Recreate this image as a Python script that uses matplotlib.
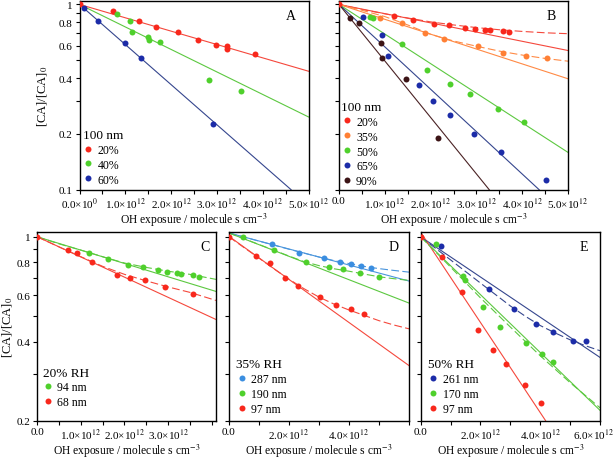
"""
Decay of [CA]/[CA]0 versus OH exposure, five panels (A-E).
Points are measurements; solid lines are linear fits, dashed lines the curved fits.
"""

import matplotlib.pyplot as plt
from matplotlib.ticker import FixedLocator, FixedFormatter, NullLocator
from matplotlib.transforms import ScaledTranslation

plt.rcParams.update({
    "font.family": "serif",
    "font.serif": ["Liberation Serif", "DejaVu Serif"],
    "mathtext.fontset": "stix",
    "font.size": 8,
    "axes.linewidth": 1.0,
    "xtick.direction": "out",
    "ytick.direction": "out",
    "xtick.major.size": 3,
    "ytick.major.size": 3,
    "xtick.major.width": 0.8,
    "ytick.major.width": 0.8,
    "xtick.major.pad": 1.5,
    "ytick.major.pad": 2,
})

RED, RED_L = "#f8281c", "#f5483c"
GREEN, GREEN_L = "#4fd02c", "#5cc840"
BLUE, BLUE_L = "#1c2ca8", "#35468e"
ORANGE, ORANGE_L = "#ff8035", "#ff8a45"
BROWN, BROWN_L = "#3c1416", "#4a2224"
LBLUE, LBLUE_L = "#3b8ee0", "#4a95dc"

# OH exposure in units of 1e12 molecule s cm-3
# ---- panel A : 100 nm
A20_x = [0.0, 0.725, 1.30, 1.67, 2.16, 2.58, 2.97, 3.22, 3.22, 3.83]
A20_y = [1.0, 0.921, 0.809, 0.755, 0.706, 0.644, 0.605, 0.596, 0.574, 0.539]
A40_x = [0.826, 1.11, 1.14, 1.49, 1.52, 1.75, 2.83, 3.53]
A40_y = [0.887, 0.809, 0.709, 0.671, 0.642, 0.628, 0.393, 0.339]
A60_x = [0.105, 0.41, 0.99, 1.34, 2.91]
A60_y = [0.956, 0.816, 0.616, 0.517, 0.225]
A20_fit = ([0, 5], [1.0, 0.436])
A40_fit = ([0, 5], [1.0, 0.247])
A60_fit = ([0, 4.62], [1.0, 0.1])

# ---- panel B : 100 nm
B20_x = [0.0, 1.19, 1.62, 2.08, 2.41, 2.76, 2.98, 3.19, 3.29, 3.57, 3.71]
B20_y = [1.0, 0.869, 0.827, 0.787, 0.770, 0.748, 0.736, 0.730, 0.724, 0.715, 0.709]
B35_x = [0.888, 1.37, 1.88, 2.29, 3.03, 3.57, 4.09, 4.54]
B35_y = [0.844, 0.793, 0.700, 0.650, 0.593, 0.550, 0.526, 0.511]
B50_x = [0.677, 0.75, 1.37, 1.93, 2.43, 2.85, 3.48, 4.05]
B50_y = [0.851, 0.844, 0.613, 0.444, 0.371, 0.328, 0.274, 0.232]
B65_x = [0.524, 0.932, 1.08, 1.74, 2.05, 2.42, 2.95, 3.54, 4.51]
B65_y = [0.851, 0.686, 0.530, 0.368, 0.303, 0.253, 0.201, 0.160, 0.113]
B90_x = [0.233, 0.43, 0.91, 0.932, 1.47, 2.17]
B90_y = [0.847, 0.789, 0.619, 0.513, 0.397, 0.190]
B20_fit = ([0, 5], [1.0, 0.564])
B35_fit = ([0, 5], [1.0, 0.397])
B50_fit = ([0, 5], [1.0, 0.159])
B65_fit = ([0, 4.37], [1.0, 0.1])
B90_fit = ([0, 3.28], [1.0, 0.1])
B20_curve_x = [0, 0.5, 1, 1.5, 2, 2.5, 3, 3.5, 4, 4.5, 5]
B20_curve_y = [1.0, 0.94, 0.89, 0.845, 0.805, 0.775, 0.750, 0.730, 0.715, 0.703, 0.695]
B35_curve_x = [0, 0.5, 1, 1.5, 2, 2.5, 3, 3.5, 4, 4.5, 5]
B35_curve_y = [1.0, 0.93, 0.86, 0.775, 0.69, 0.635, 0.595, 0.56, 0.533, 0.511, 0.494]

# ---- panel C : 20% RH
C94_x = [1.19, 1.62, 2.08, 2.42, 2.76, 2.98, 3.20, 3.30, 3.57, 3.72]
C94_y = [0.868, 0.823, 0.783, 0.767, 0.747, 0.736, 0.728, 0.721, 0.713, 0.703]
C68_x = [0.0, 0.70, 0.90, 1.25, 1.835, 2.12, 2.48, 2.93, 3.57]
C68_y = [1.0, 0.893, 0.870, 0.804, 0.717, 0.697, 0.683, 0.645, 0.607]
C94_fit = ([0, 4.1], [1.0, 0.620])
C68_fit = ([0, 4.1], [1.0, 0.485])
C94_curve_x = [0, 0.5, 1, 1.5, 2, 2.5, 3, 3.5, 4.1]
C94_curve_y = [1.0, 0.94, 0.89, 0.84, 0.795, 0.765, 0.74, 0.72, 0.689]
C68_curve_x = [0, 0.5, 1, 1.5, 2, 2.5, 3, 3.5, 4.1]
C68_curve_y = [1.0, 0.915, 0.84, 0.772, 0.72, 0.68, 0.645, 0.615, 0.573]

# ---- panel D : 35% RH
D287_x = [1.42, 2.32, 3.17, 3.69, 4.08, 4.41, 4.74]
D287_y = [0.939, 0.865, 0.828, 0.804, 0.785, 0.772, 0.758]
D190_x = [0.467, 1.49, 2.56, 3.34, 3.79, 4.37, 5.0]
D190_y = [0.996, 0.891, 0.799, 0.765, 0.752, 0.728, 0.704]
D97_x = [0.0, 0.89, 1.38, 1.88, 2.30, 3.02, 3.56, 4.08, 4.51]
D97_y = [1.0, 0.845, 0.793, 0.697, 0.650, 0.591, 0.550, 0.530, 0.511]
D287_fit = ([0, 6], [1.034, 0.679])
D190_fit = ([0, 6], [1.034, 0.560])
D97_fit = ([0, 6], [1.004, 0.324])
D287_curve_x = [0, 1, 2, 3, 3.5, 4, 4.5, 5, 5.5, 6]
D287_curve_y = [1.034, 0.963, 0.897, 0.838, 0.812, 0.791, 0.772, 0.757, 0.745, 0.734]
D190_curve_x = [0, 1, 2, 2.5, 3, 3.5, 4, 4.5, 5, 5.5, 6]
D190_curve_y = [1.034, 0.935, 0.845, 0.805, 0.777, 0.756, 0.74, 0.722, 0.705, 0.693, 0.683]
D97_curve_x = [0, 0.5, 1, 1.5, 2, 2.5, 3, 3.5, 4, 4.5, 5, 5.5, 6]
D97_curve_y = [1.0, 0.91, 0.83, 0.755, 0.69, 0.635, 0.59, 0.555, 0.527, 0.503, 0.48, 0.462, 0.447]

# ---- panel E : 50% RH
E261_x = [0.667, 2.27, 3.11, 3.85, 4.42, 5.08, 5.52]
E261_y = [0.920, 0.633, 0.532, 0.468, 0.433, 0.403, 0.401]
E170_x = [0.52, 1.43, 1.49, 2.07, 2.64, 3.52, 4.07, 4.44]
E170_y = [0.941, 0.711, 0.683, 0.539, 0.454, 0.394, 0.357, 0.334]
E97_x = [0.0, 0.72, 1.37, 1.92, 2.43, 2.85, 3.48, 4.03]
E97_y = [1.0, 0.838, 0.615, 0.444, 0.371, 0.328, 0.274, 0.234]
E261_fit = ([0, 6], [1.0, 0.348])
E170_fit = ([0, 6], [1.0, 0.219])
E97_fit = ([0, 4.18], [1.04, 0.2])
E261_curve_x = [0, 1, 2, 3, 3.5, 4, 4.5, 5, 5.5, 6]
E261_curve_y = [1.0, 0.817, 0.667, 0.546, 0.499, 0.460, 0.431, 0.406, 0.386, 0.369]
E170_curve_x = [0, 1, 2, 3, 4, 5, 6]
E170_curve_y = [1.0, 0.767, 0.586, 0.454, 0.353, 0.279, 0.224]

XLABEL = "OH exposure / molecule s cm$^{-3}$"
YLABEL = "[CA]/[CA]$_0$"


def sci(v):
    return f"{v:.1f}×10$^{{12}}$"


def make_ax(fig, left, top, right, bottom):
    W, H = 614, 460
    return fig.add_axes([left / W, 1 - bottom / H, (right - left) / W, (bottom - top) / H])


def setup(ax, xmax, xticks, xlabels, ylo, yhi, yticks, ylabels, letter, lx):
    ax.set_yscale("log")
    ax.set_xlim(0, xmax)
    ax.set_ylim(ylo, yhi)
    ax.xaxis.set_major_locator(FixedLocator(xticks))
    ax.xaxis.set_major_formatter(FixedFormatter(xlabels))
    ax.xaxis.set_minor_locator(NullLocator())
    ax.yaxis.set_major_locator(FixedLocator(yticks))
    ax.yaxis.set_major_formatter(FixedFormatter(ylabels))
    ax.yaxis.set_minor_locator(NullLocator())
    ax.set_xlabel(XLABEL, fontsize=8.3, labelpad=0)
    ax.text(lx, 0.955, letter, transform=ax.transAxes, ha="right", va="top", fontsize=10)


def pts(ax, x, y, c, label):
    ax.plot(x, y, "o", ms=4.3, mec="none", color=c, label=label, zorder=3)


def line(ax, xy, c, ls="-"):
    if ls == "--":
        ax.plot(xy[0], xy[1], color=c, lw=0.8, dashes=(7, 3), zorder=2)
    else:
        ax.plot(xy[0], xy[1], color=c, lw=0.8, zorder=2)


def leg(ax, title, anchor):
    return ax.legend(title=title, loc="lower left", bbox_to_anchor=anchor, frameon=False,
                     fontsize=8.5, title_fontsize=9.5, handlelength=0.9, handletextpad=0.35,
                     labelspacing=0.25, borderaxespad=0, borderpad=0, alignment="left")


fig = plt.figure(figsize=(6.14, 4.6), dpi=100)

top_yt = [0.1, 0.2, 0.3, 0.4, 0.5, 0.6, 0.7, 0.8, 0.9, 1.0]
top_yl = ["0.1", "0.2", "", "0.4", "", "0.6", "", "0.8", "", "1"]
bot_yt = [0.2, 0.3, 0.4, 0.5, 0.6, 0.7, 0.8, 0.9, 1.0]
bot_yl = ["0.2", "", "0.4", "", "0.6", "", "0.8", "", "1"]
ab_xt = [0, 0.5, 1, 1.5, 2, 2.5, 3, 3.5, 4, 4.5, 5]

# ---- A
ax = make_ax(fig, 79.5, 1.5, 308.5, 190.7)
a_xl = ["0.0×10$^{0}$" if v == 0 else (sci(v) if v % 1 == 0 else "") for v in ab_xt]
setup(ax, 5, ab_xt, a_xl, 0.1, 1.05, top_yt, top_yl, "A", 0.945)
ax.set_ylabel(YLABEL, fontsize=9, labelpad=6)
line(ax, A20_fit, RED_L)
line(ax, A40_fit, GREEN_L)
line(ax, A60_fit, BLUE_L)
pts(ax, A20_x, A20_y, RED, "20%")
pts(ax, A40_x, A40_y, GREEN, "40%")
pts(ax, A60_x, A60_y, BLUE, "60%")
leg(ax, "100 nm", (0.015, 0.022))

# ---- B
ax = make_ax(fig, 339, 1.5, 568, 190.7)
b_xl = ["0.0" if v == 0 else (sci(v) if v % 1 == 0 else "") for v in ab_xt]
setup(ax, 5, ab_xt, b_xl, 0.1, 1.05, top_yt, [""] * len(top_yt), "B", 0.945)
line(ax, B20_fit, RED_L)
line(ax, B35_fit, ORANGE_L)
line(ax, B50_fit, GREEN_L)
line(ax, B65_fit, BLUE_L)
line(ax, B90_fit, BROWN_L)
line(ax, (B20_curve_x, B20_curve_y), RED_L, "--")
line(ax, (B35_curve_x, B35_curve_y), ORANGE_L, "--")
pts(ax, B20_x, B20_y, RED, "20%")
pts(ax, B35_x, B35_y, ORANGE, "35%")
pts(ax, B50_x, B50_y, GREEN, "50%")
pts(ax, B65_x, B65_y, BLUE, "65%")
pts(ax, B90_x, B90_y, BROWN, "90%")
leg(ax, "100 nm", (0.01, 0.012))

# ---- C
ax = make_ax(fig, 37.3, 233, 216, 421.7)
c_xt = [0, 0.5, 1, 1.5, 2, 2.5, 3, 3.5, 4]
c_xl = ["0.0" if v == 0 else (sci(v) if v % 1 == 0 and v < 4 else "") for v in c_xt]
setup(ax, 4.1, c_xt, c_xl, 0.2, 1.043, bot_yt, bot_yl, "C", 0.966)
ax.set_ylabel(YLABEL, fontsize=9, labelpad=1)
line(ax, C94_fit, GREEN_L)
line(ax, C68_fit, RED_L)
line(ax, (C94_curve_x, C94_curve_y), GREEN_L, "--")
line(ax, (C68_curve_x, C68_curve_y), RED_L, "--")
pts(ax, C94_x, C94_y, GREEN, "94 nm")
pts(ax, C68_x, C68_y, RED, "68 nm")
leg(ax, "20% RH", (0.03, 0.065))

# ---- D
ax = make_ax(fig, 229, 233, 409, 421.7)
d_xt = [0, 1, 2, 3, 4, 5, 6]
d_xl = ["0.0", "", sci(2), "", sci(4), "", ""]
setup(ax, 6, d_xt, d_xl, 0.2, 1.043, bot_yt, [""] * len(bot_yt), "D", 0.944)
line(ax, D287_fit, LBLUE_L)
line(ax, D190_fit, GREEN_L)
line(ax, D97_fit, RED_L)
line(ax, (D287_curve_x, D287_curve_y), LBLUE_L, "--")
line(ax, (D190_curve_x, D190_curve_y), GREEN_L, "--")
line(ax, (D97_curve_x, D97_curve_y), RED_L, "--")
pts(ax, D287_x, D287_y, LBLUE, "287 nm")
pts(ax, D190_x, D190_y, GREEN, "190 nm")
pts(ax, D97_x, D97_y, RED, "97 nm")
leg(ax, "35% RH", (0.04, 0.03))

# ---- E
ax = make_ax(fig, 420.7, 233, 600, 421.7)
e_xl = ["0.0", "", sci(2), "", sci(4), "", sci(6)]
setup(ax, 6, d_xt, e_xl, 0.2, 1.043, bot_yt, [""] * len(bot_yt), "E", 0.933)
# keep the last tick label inside the figure edge
last = ax.get_xticklabels()[-1]
last.set_transform(last.get_transform() + ScaledTranslation(-6 / 100, 0, fig.dpi_scale_trans))
line(ax, E261_fit, BLUE_L)
line(ax, E170_fit, GREEN_L)
line(ax, E97_fit, RED_L)
line(ax, (E261_curve_x, E261_curve_y), BLUE_L, "--")
line(ax, (E170_curve_x, E170_curve_y), GREEN_L, "--")
pts(ax, E261_x, E261_y, BLUE, "261 nm")
pts(ax, E170_x, E170_y, GREEN, "170 nm")
pts(ax, E97_x, E97_y, RED, "97 nm")
leg(ax, "50% RH", (0.04, 0.03))

fig.savefig("out.png", dpi=100)
